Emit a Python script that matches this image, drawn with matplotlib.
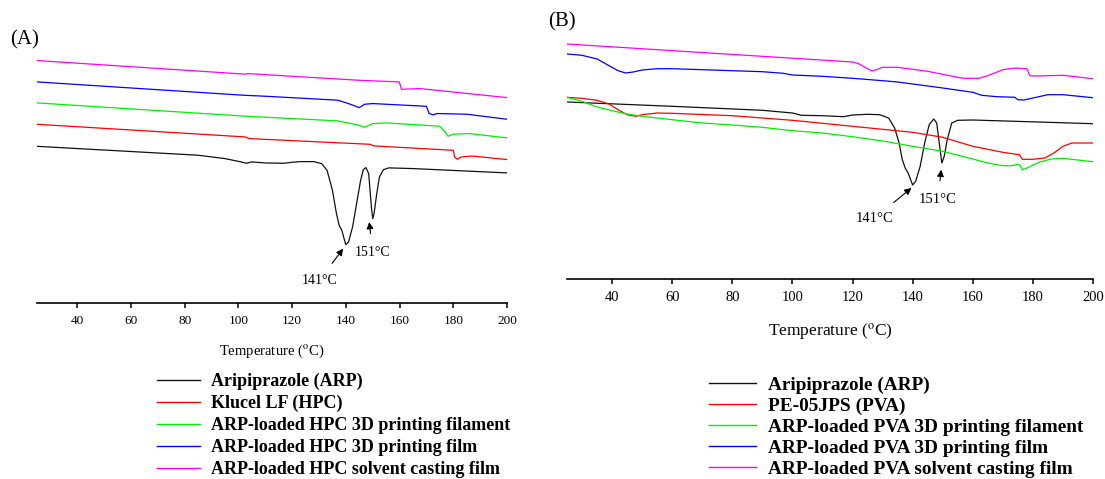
import numpy as np
import matplotlib
matplotlib.use("Agg")
import matplotlib.pyplot as plt

plt.rcParams["font.family"] = ["Liberation Serif", "DejaVu Serif"]
plt.rcParams["mathtext.fontset"] = "stix"

# ---- panel A : HPC series (temperature in C, heat flow in arbitrary offset units) ----
tA_arp = [25, 85, 95, 101, 103, 105, 110, 117, 120, 123, 128, 131, 133, 135, 136.5, 137.5,
          138.5, 139.5, 140, 141, 142.5, 144, 145.5, 146.5, 147.5, 148.5, 149.5, 150, 150.5,
          151.5, 152.5, 154, 156, 165, 200]
hA_arp = [162, 152.8, 149.3, 145.9, 144.5, 145.9, 144.8, 144.5, 145.5, 146.2, 146.2, 144.1,
          137.2, 116.6, 92.4, 80.3, 75.2, 64.8, 60.3, 63.1, 78.6, 102.8, 126.9, 137.9, 140,
          133.8, 99.3, 87.2, 92.4, 113.1, 130.3, 137.9, 139.7, 139, 134.5]

tA_hpc = [25, 102.6, 104, 149, 150.5, 180, 180.5, 181.5, 183, 187, 200]
hA_hpc = [184.8, 171.7, 170, 164.1, 162.4, 157.9, 151, 148.6, 151, 152, 148.3]

tA_fil = [25, 103, 137, 145, 147, 150, 155, 175, 177, 178, 180, 186, 200]
hA_fil = [206.9, 193.1, 188.3, 183.8, 181.7, 185.5, 186.2, 182.8, 176.9, 172.4, 174.5, 175.2, 170.7]

tA_film = [25, 102, 110, 137, 141, 145, 147, 150, 170, 171, 172.5, 174, 185, 200]
hA_film = [228.6, 214.8, 213.8, 209.7, 206.2, 202, 205.5, 206.2, 203.4, 195.9, 194.5, 195.9,
           195.2, 190]

tA_cast = [25, 102.7, 103.4, 144.9, 159.9, 160.7, 167.6, 200]
hA_cast = [250.7, 236.6, 237.2, 230.3, 228.6, 221, 221.7, 212.4]

# ---- panel B : PVA series ----
tB_arp = [25, 60, 90, 100, 103, 110, 117, 120, 125, 129, 132, 134, 135.5, 136.5, 137.5,
          138.5, 140, 141, 142.5, 144, 145.5, 147, 148, 149, 149.7, 150.5, 151.5, 153, 155,
          160, 200]
hB_arp = [177, 172.7, 168.7, 166, 163.7, 163.3, 162.3, 164, 164.7, 164.3, 161, 151, 136, 120,
          111, 106, 94, 97.7, 112.7, 136, 154.3, 160, 156, 132.7, 116, 122.7, 139.3, 156,
          158.7, 159, 155.3]

tB_pva = [25, 30, 35, 39, 42, 45, 48, 50, 55, 60, 80, 100, 120, 140, 150, 160, 170, 175.5,
          176.5, 180, 184, 187, 190, 193, 200]
hB_pva = [181.7, 180.7, 178.7, 175, 169.3, 164.3, 162.7, 164.3, 166, 165.7, 163.3, 158.7,
          152.7, 146.7, 141.7, 132.7, 126.7, 124.3, 119.7, 119.7, 121, 126, 132.7, 136, 136]

tB_fil = [25, 30, 35, 40, 45, 50, 60, 70, 80, 90, 100, 110, 120, 130, 140, 150, 160, 165,
          170, 173, 175, 175.7, 176.5, 178, 182, 186, 190, 200]
hB_fil = [181.7, 177.7, 172, 168.3, 165, 162.7, 159.3, 156, 154, 151.7, 148.3, 146, 142.3,
          138, 132.7, 127.7, 120, 116, 113.3, 113.3, 114.7, 113.7, 109.3, 111, 116.7, 120,
          120.7, 117.3]

tB_film = [25, 30, 35, 39, 42, 44.5, 47, 50, 55, 60, 70, 90, 97, 100, 110, 120, 130, 135,
           140, 150, 160, 163, 168, 174, 175, 177, 180, 185, 190, 200]
hB_film = [225, 223.7, 220, 213.3, 208.3, 206, 207, 209, 210.3, 210.3, 209.3, 207.3, 205.7,
           204, 202.7, 200.7, 198.3, 197, 195, 191, 186.7, 183.7, 182.3, 181.7, 179.3, 179,
           181, 184.3, 184.3, 181.3]

tB_cast = [25, 120, 122, 125, 126.5, 128, 130, 135, 145, 155, 157, 162, 165, 170, 174, 178,
           179, 181, 190, 200]
hB_cast = [235, 217, 215.3, 210.3, 208, 209.3, 211.7, 211.7, 207.7, 201.7, 200.7, 200.7,
           203.3, 209.3, 211, 210.3, 203.3, 203, 203.7, 200.3]

labels_A = ["Aripiprazole (ARP)", "Klucel LF (HPC)",
            "ARP-loaded HPC 3D printing filament", "ARP-loaded HPC 3D printing film",
            "ARP-loaded HPC solvent casting film"]
labels_B = ["Aripiprazole (ARP)", "PE-05JPS (PVA)",
            "ARP-loaded PVA 3D printing filament", "ARP-loaded PVA 3D printing film",
            "ARP-loaded PVA solvent casting film"]
colors = ["#111111", "#ff0000", "#00ee00", "#0000ff", "#ff00ff"]

x_ticks = [40, 60, 80, 100, 120, 140, 160, 180, 200]


def style_axis(ax, tick_size):
    for s in ["left", "top", "right"]:
        ax.spines[s].set_visible(False)
    ax.spines["bottom"].set_linewidth(1.2)
    ax.set_yticks([])
    ax.set_xticks(x_ticks)
    ax.tick_params(axis="x", direction="out", length=3.5, width=1.1, pad=5,
                   labelsize=tick_size)
    ax.set_xlim(25, 200)


def add_legend(ax, labels, x_px, y_px, size, hlen, pad, spacing):
    leg = ax.legend(labels, loc="upper left", bbox_to_anchor=(x_px / W, 1 - y_px / H),
                    bbox_transform=fig.transFigure, frameon=False,
                    prop={"weight": "bold", "size": size}, handlelength=hlen,
                    handletextpad=pad, labelspacing=spacing, borderpad=0, borderaxespad=0)
    for l in leg.get_lines():
        l.set_linewidth(1.0)
    return leg


def arrow_note(ax, text, tip, txt, size):
    ax.annotate(text, xy=tip, xytext=txt, ha="center", va="center", fontsize=size,
                arrowprops=dict(arrowstyle="-|>", color="k", lw=0.8, mutation_scale=10,
                                shrinkA=7, shrinkB=0))


fig = plt.figure(figsize=(11.05, 4.79), dpi=100)
W, H = 1105.0, 479.0

# panel A
axA = fig.add_axes([37 / W, 1 - 303 / H, 470 / W, 253 / H])
style_axis(axA, 9.5)
seriesA = [(tA_arp, hA_arp), (tA_hpc, hA_hpc), (tA_fil, hA_fil), (tA_film, hA_film),
           (tA_cast, hA_cast)]
for (t, h), c in zip(seriesA, colors):
    axA.plot(t, h, color=c, lw=0.9)
axA.set_ylim(0, 261.6)
axA.set_xlabel(r"Temperature ($^{\rm o}$C)", fontsize=10.5)
axA.xaxis.set_label_coords(0.5, -0.155)
arrow_note(axA, "141°C", (139, 56.2), (130.1, 23.4), 10)
arrow_note(axA, "151°C", (148.7, 83.8), (150, 52), 10)
fig.text(10 / W, 1 - 40 / H, "(A)", fontsize=15, va="center", ha="left")
add_legend(axA, labels_A, 157, 373, 13, 2.4, 0.6, 0.27)

# panel B
axB = fig.add_axes([567 / W, 1 - 279 / H, 526 / W, 244 / H])
style_axis(axB, 10.5)
seriesB = [(tB_arp, hB_arp), (tB_pva, hB_pva), (tB_fil, hB_fil), (tB_film, hB_film),
           (tB_cast, hB_cast)]
for (t, h), c in zip(seriesB, colors):
    axB.plot(t, h, color=c, lw=0.9)
axB.set_ylim(0, 244)
axB.set_xlabel(r"Temperature ($^{\rm o}$C)", fontsize=12.5)
axB.xaxis.set_label_coords(0.5, -0.175)
arrow_note(axB, "141°C", (139.6, 91), (127.4, 61), 10.5)
arrow_note(axB, "151°C", (149.5, 109.3), (148.4, 79.3), 10.5)
fig.text(548 / W, 1 - 22 / H, "(B)", fontsize=15, va="center", ha="left")
add_legend(axB, labels_B, 709, 376, 13.9, 2.45, 0.62, 0.18)

fig.savefig("out.png", dpi=100)
